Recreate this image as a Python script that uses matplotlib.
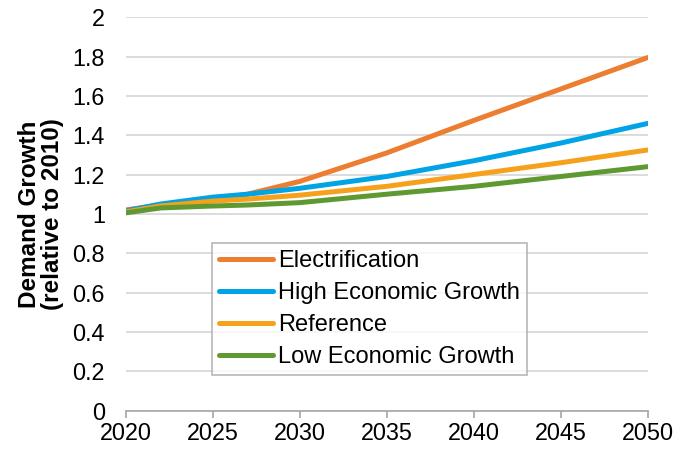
import numpy as np
import matplotlib.pyplot as plt

plt.rcParams['font.family'] = ['Liberation Sans', 'DejaVu Sans']

years = [2020, 2022, 2025, 2027, 2030, 2035, 2040, 2045, 2050]
electrification = [1.02, 1.045, 1.075, 1.10, 1.165, 1.31, 1.475, 1.635, 1.795]
high_growth = [1.015, 1.05, 1.085, 1.10, 1.13, 1.19, 1.27, 1.36, 1.46]
reference = [1.01, 1.04, 1.065, 1.075, 1.095, 1.14, 1.20, 1.26, 1.325]
low_growth = [1.005, 1.03, 1.04, 1.045, 1.057, 1.10, 1.14, 1.19, 1.24]

series = [
    ("Electrification", electrification, "#ED7D31"),
    ("High Economic Growth", high_growth, "#00A3E3"),
    ("Reference", reference, "#F5A11C"),
    ("Low Economic Growth", low_growth, "#5E9932"),
]

fig = plt.figure(figsize=(6.78, 4.51), dpi=100)
ax = fig.add_axes([0.1854, 0.0898, 0.770, 0.872])

for name, vals, col in series:
    ax.plot(years, vals, color=col, lw=3.6, label=name, solid_capstyle="round")

ax.set_xlim(2020, 2050)
ax.set_ylim(0, 2)
ax.set_xticks(range(2020, 2051, 5))
ax.set_yticks(np.arange(0, 2.01, 0.2))
ax.set_yticklabels(["0", "0.2", "0.4", "0.6", "0.8", "1", "1.2", "1.4", "1.6", "1.8", "2"])
ax.grid(axis="y", color="#D9D9D9", lw=1.3)
ax.set_axisbelow(True)

for s in ["top", "right", "left"]:
    ax.spines[s].set_visible(False)
ax.spines["bottom"].set_color("#A6A6A6")
ax.spines["bottom"].set_linewidth(1.2)
ax.tick_params(axis="x", colors="#A6A6A6", labelcolor="black", labelsize=16.8,
               length=5, width=1.2, direction="out", pad=3)
ax.tick_params(axis="y", length=0, labelsize=16.8, pad=15)

ax.set_ylabel("Demand Growth\n(relative to 2010)", fontsize=17.5,
              fontweight="bold", labelpad=6, linespacing=1.0)

leg = ax.legend(loc="upper left", bbox_to_anchor=(0.165, 0.426), fontsize=17,
                frameon=True, fancybox=False, edgecolor="#A6A6A6",
                handlelength=2.3, handletextpad=0.2, borderpad=0.3,
                labelspacing=0.42, borderaxespad=0)
leg.get_frame().set_linewidth(1.2)

fig.savefig("out.png", dpi=100)
